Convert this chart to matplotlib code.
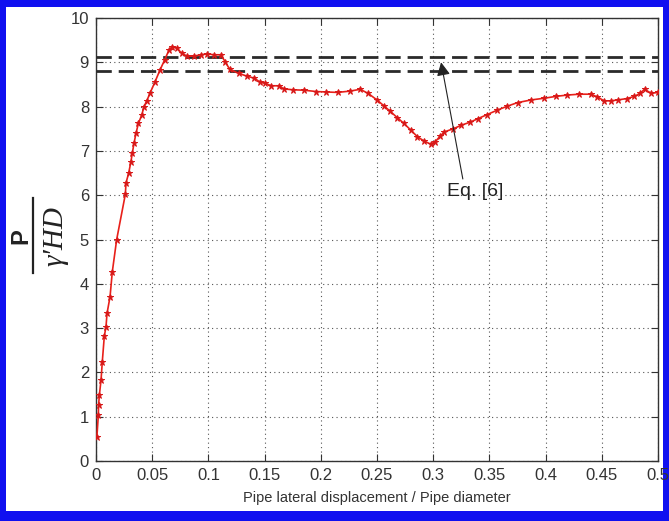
import matplotlib
matplotlib.use("Agg")
import matplotlib.pyplot as plt
from matplotlib.patches import Rectangle
from matplotlib.lines import Line2D

# Normalised lateral displacement and normalised soil resistance
displacement = [0.0008, 0.0021, 0.0023, 0.003, 0.0045, 0.0056, 0.0074, 0.0089, 0.0098, 0.0125,
                0.0145, 0.0184, 0.0261, 0.0267, 0.029, 0.0311, 0.0323, 0.0338, 0.0356, 0.0377,
                0.0407, 0.0427, 0.045, 0.048, 0.0525, 0.057, 0.061, 0.065, 0.068, 0.0718,
                0.0765, 0.081, 0.087, 0.093, 0.099, 0.105, 0.111, 0.115, 0.119, 0.127,
                0.134, 0.141, 0.146, 0.150, 0.156, 0.163, 0.167, 0.175, 0.185, 0.196,
                0.205, 0.215, 0.226, 0.235, 0.242, 0.250, 0.256, 0.262, 0.268, 0.274,
                0.280, 0.286, 0.292, 0.298, 0.302, 0.306, 0.310, 0.318, 0.325, 0.333,
                0.340, 0.348, 0.357, 0.366, 0.375, 0.387, 0.399, 0.409, 0.419, 0.430,
                0.440, 0.446, 0.452, 0.458, 0.464, 0.472, 0.479, 0.484, 0.488, 0.494, 0.500]
resistance = [0.55, 1.04, 1.26, 1.49, 1.83, 2.24, 2.82, 3.03, 3.33, 3.71,
              4.27, 5.00, 6.02, 6.28, 6.49, 6.76, 6.95, 7.17, 7.40, 7.62,
              7.81, 8.0, 8.12, 8.3, 8.56, 8.83, 9.05, 9.28, 9.35, 9.32,
              9.2, 9.14, 9.14, 9.17, 9.19, 9.17, 9.17, 9.01, 8.84, 8.75,
              8.69, 8.64, 8.55, 8.53, 8.47, 8.47, 8.40, 8.38, 8.37, 8.34,
              8.33, 8.32, 8.35, 8.39, 8.30, 8.15, 8.02, 7.89, 7.75, 7.62,
              7.47, 7.32, 7.22, 7.15, 7.21, 7.33, 7.43, 7.50, 7.58, 7.65,
              7.73, 7.82, 7.92, 8.01, 8.09, 8.15, 8.19, 8.23, 8.26, 8.28,
              8.28, 8.22, 8.13, 8.13, 8.15, 8.18, 8.23, 8.30, 8.39, 8.30, 8.32]

# Bounds given by Eq. [6]
eq6_bounds = [9.13, 8.80]
eq6_label = "Eq. [6]"

x_ticks = [0, 0.05, 0.1, 0.15, 0.2, 0.25, 0.3, 0.35, 0.4, 0.45, 0.5]
x_tick_labels = ["0", "0.05", "0.1", "0.15", "0.2", "0.25", "0.3", "0.35", "0.4", "0.45", "0.5"]
y_ticks = list(range(0, 11))

y_label_num = "P"
y_label_den = "\u03b3\u2032HD"
x_label = "Pipe lateral displacement / Pipe diameter"

plt.rcParams["font.family"] = ["Liberation Sans", "DejaVu Sans"]

fig = plt.figure(figsize=(6.69, 5.21), dpi=100)
fig.patch.set_facecolor("#1010f0")
W, H = 669.0, 521.0
fig.patches.append(Rectangle((6 / W, 10 / H), (663 - 6) / W, (514 - 10) / H,
                             transform=fig.transFigure, facecolor="white",
                             edgecolor="none", zorder=-10))

ax = fig.add_axes([96 / W, 1 - 461 / H, (658 - 96) / W, (461 - 18) / H])
ax.set_zorder(1)
ax.set_xlim(0, 0.5)
ax.set_ylim(0, 10)

ax.grid(True, linestyle=(0, (1, 3)), color="#555555", linewidth=0.8)
ax.set_axisbelow(True)

for b in eq6_bounds:
    ax.axhline(b, color="#2a2a2a", linewidth=2.0, linestyle=(0, (5.5, 2.5)), zorder=3)

ax.plot(displacement, resistance, color="#e8201a", linewidth=1.2,
        marker="*", markersize=5, markeredgewidth=0.7,
        markerfacecolor="#d81818", markeredgecolor="#d81818", zorder=4)

ax.annotate(eq6_label, xy=(0.307, 9.0), xytext=(0.312, 5.98),
            fontsize=14, color="#222222", ha="left", va="baseline",
            arrowprops=dict(arrowstyle="-|>", color="#222222", lw=0.8,
                            mutation_scale=20, shrinkA=1, shrinkB=0,
                            relpos=(0.3, 1.0)),
            zorder=5)

ax.set_xticks(x_ticks)
ax.set_xticklabels(x_tick_labels)
ax.set_yticks(y_ticks)
ax.tick_params(direction="in", top=True, right=True, length=5, width=0.8,
               labelsize=12, colors="#333333", pad=5)
for s in ax.spines.values():
    s.set_color("#333333")
    s.set_linewidth(1.0)

ax.set_xlabel(x_label, fontsize=10.5, color="#333333", labelpad=6)

# Stacked fraction for the y-axis label, drawn rotated in figure pixels
yc = 1 - 236 / H
fig.text(21 / W, yc, y_label_num, rotation=90, ha="center", va="center",
         fontsize=17, fontweight="bold", family="Liberation Sans", color="#222222")
fig.add_artist(Line2D([33 / W, 33 / W], [1 - 198 / H, 1 - 273 / H],
                      transform=fig.transFigure, color="#222222", linewidth=1.6))
fig.text(55 / W, yc, y_label_den, rotation=90, ha="center", va="center",
         fontsize=21, fontstyle="italic", family=["Liberation Serif", "DejaVu Serif"],
         color="#222222")

fig.savefig("out.png", dpi=100, facecolor=fig.get_facecolor())
